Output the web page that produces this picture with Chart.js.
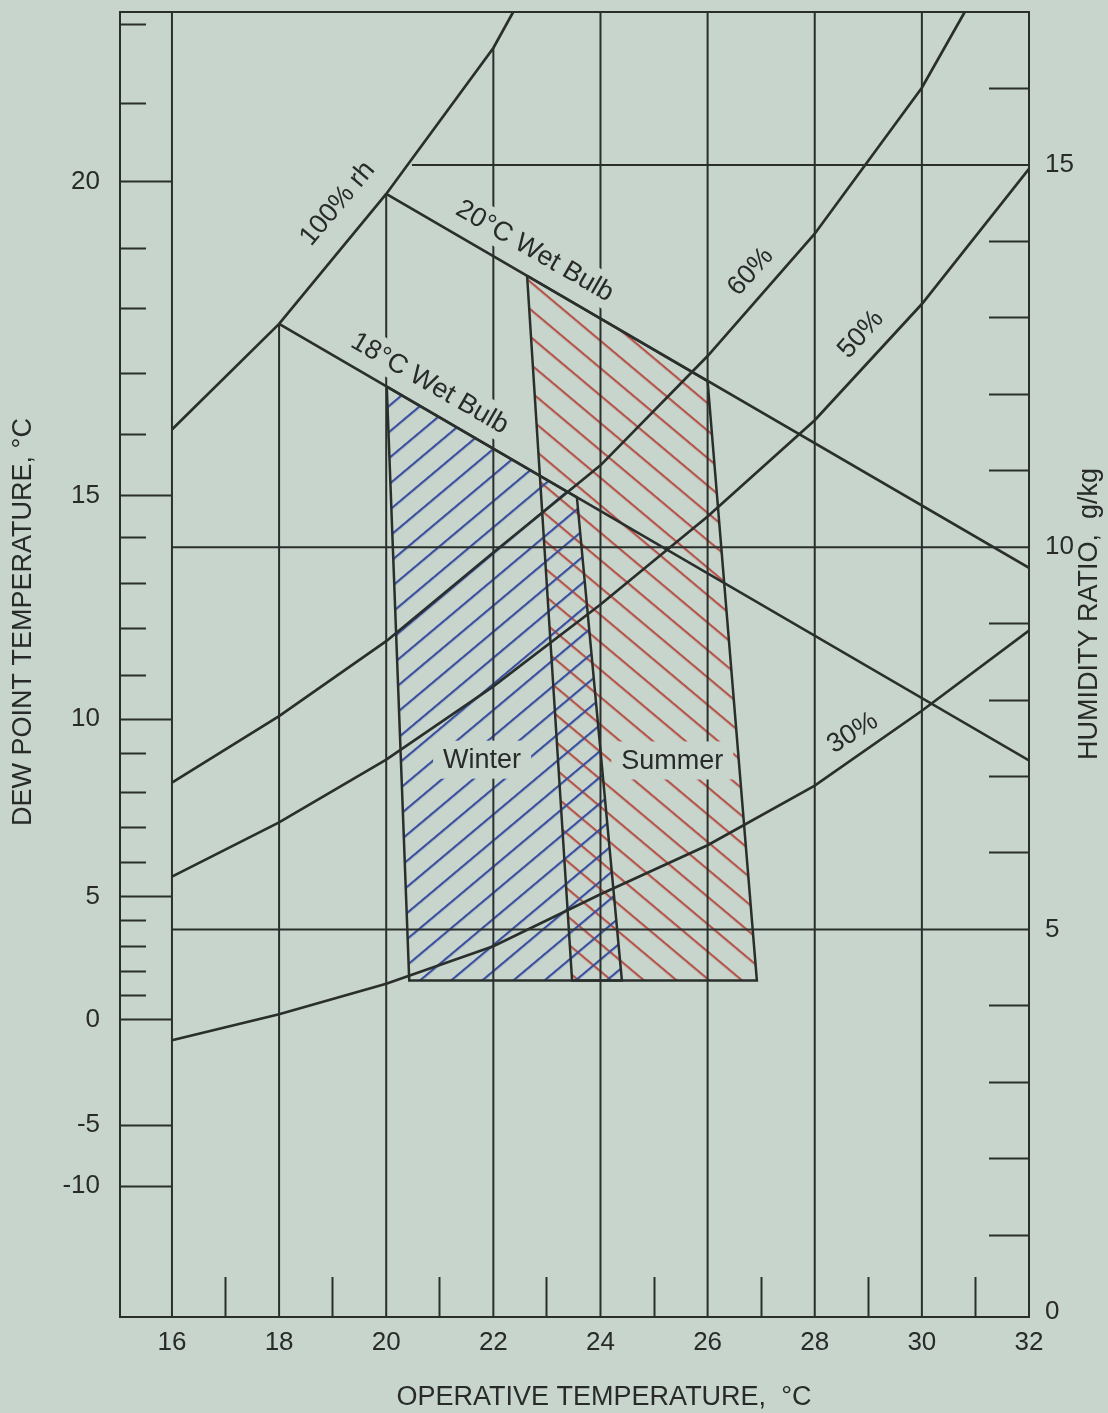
<!DOCTYPE html>
<html><head><meta charset="utf-8">
<script src="https://cdn.jsdelivr.net/npm/chart.js@4.4.1/dist/chart.umd.min.js"></script>
<style>html,body{margin:0;padding:0;background:#c7d5cd;}canvas{display:block;}</style>
</head><body>
<canvas id="c" width="1108" height="1413"></canvas>
<script>
// ---------- data ----------
const tempTicks = [16,17,18,19,20,21,22,23,24,25,26,27,28,29,30,31,32];
const dewPointLabels = ['20','15','10','5','0','-5','-10'];
const dewPointLabelW = [14.78,10.67,7.75,5.43,3.82,2.44,1.64];
const dewPointMinorW = [16.83,15.80,13.91,13.12,12.27,11.47,10.12,9.52,8.94,8.32,7.30,6.79,6.33,5.88,5.11,4.78,4.45,4.14];
const humidityTicks = [0,1,2,3,4,5,6,7,8,9,10,11,12,13,14,15,16];

const gridTemps = [16,18,20,22,24,26,28,30];
const gridTempTopW = [17,12.92,14.62,16.53,17,17,17,17];
const gridW = [5,10,15];
const gridWStartT = [16,16,20.48];

const rh100 = [[16,11.54],[18,12.92],[20,14.62],[22,16.53],[22.37,17.0]];
const rh60 = [[16,6.92],[18,7.79],[20,8.77],[22,9.93],[24,11.07],[26,12.5],[28,14.10],[30,16.01],[30.8,17.0]];
const rh50 = [[16,5.69],[18,6.40],[20,7.22],[22,8.18],[24,9.25],[26,10.4],[28,11.66],[30,13.18],[32,14.95]];
const rh30 = [[16,3.55],[18,3.89],[20,4.29],[22,4.78],[24,5.46],[26,6.1],[28,6.88],[30,7.86],[32,8.91]];
const wetBulb18 = [[18,12.92],[32,7.21]];
const wetBulb20 = [[20,14.62],[32,9.73]];
const winterZone = [[20.01,12.10],[20.43,4.33],[24.40,4.33],[23.56,10.65]];
const summerZone = [[22.63,13.55],[23.47,4.33],[26.92,4.33],[26.0,12.17]];

// ---------- styling / layout ----------
const BG = '#c7d5cd', INK = '#2a2f2c', TXT = '#282b29';
const FONT = '"Liberation Sans", Arial, Helvetica, sans-serif';
const W_MIN = -0.07, W_MAX = 17.0, T_MIN = 15.03, T_MAX = 32;

const annotations = [
  {text:'100% rh', t:19.08, w:14.50, angle:-50, h:30, pad:6},
  {text:'20°C Wet Bulb', t:22.78, w:13.88, angle:30, h:34, pad:8},
  {text:'18°C Wet Bulb', t:20.82, w:12.15, angle:30, h:34, pad:8},
  {text:'60%', t:26.79, w:13.61, angle:-48, h:30, pad:6},
  {text:'50%', t:28.85, w:12.79, angle:-48, h:30, pad:6},
  {text:'30%', t:28.70, w:7.58, angle:-32, h:30, pad:6},
  {text:'Winter', t:21.79, w:7.22, angle:0, h:38, pad:20},
  {text:'Summer', t:25.34, w:7.21, angle:0, h:38, pad:20}
];

function hatch(color, angle, spacing, width) {
  const c = document.createElement('canvas');
  c.width = 4; c.height = spacing;
  const g = c.getContext('2d');
  g.fillStyle = color;
  g.fillRect(0, 0, 4, width);
  const p = g.createPattern(c, 'repeat');
  p.setTransform(new DOMMatrix().rotateSelf(angle));
  return p;
}

const pts = a => a.map(([x, y]) => ({x, y}));
const lineDs = (data, width) => ({data: pts(data), borderColor: INK, borderWidth: width,
  pointRadius: 0, pointHoverRadius: 0, fill: false, tension: 0});

const datasets = [];
gridTemps.forEach((t, i) => datasets.push(lineDs([[t, W_MIN], [t, gridTempTopW[i]]], 2)));
gridW.forEach((w, i) => datasets.push(lineDs([[gridWStartT[i], w], [T_MAX, w]], 2)));
[rh100, rh60, rh50, rh30, wetBulb18, wetBulb20].forEach(c => datasets.push(lineDs(c, 2.7)));
datasets.push(Object.assign(lineDs([...winterZone, winterZone[0]], 2.5),
  {fill: 'shape', backgroundColor: hatch('#3a4e9e', -40, 20, 2.2)}));
datasets.push(Object.assign(lineDs([...summerZone, summerZone[0]], 2.5),
  {fill: 'shape', backgroundColor: hatch('#b4544a', 40, 21, 2.2)}));

const isMajorDew = v => dewPointLabelW.indexOf(v) >= 0;
const noPad = s => { s.paddingTop = 0; s.paddingBottom = 0; s.paddingLeft = 0; s.paddingRight = 0; };

const textPlugin = {
  id: 'texts',
  afterDatasetsDraw(chart) {
    const {ctx, scales: {x, y}} = chart;
    ctx.save();
    ctx.font = '27px ' + FONT;
    ctx.textAlign = 'center';
    ctx.textBaseline = 'middle';
    for (const a of annotations) {
      const px = x.getPixelForValue(a.t), py = y.getPixelForValue(a.w);
      const tw = ctx.measureText(a.text).width;
      ctx.save();
      ctx.translate(px, py);
      ctx.rotate(a.angle * Math.PI / 180);
      ctx.fillStyle = BG;
      ctx.fillRect(-tw / 2 - a.pad / 2, -a.h / 2, tw + a.pad, a.h);
      ctx.fillStyle = TXT;
      ctx.fillText(a.text, 0, 1);
      ctx.restore();
    }
    ctx.restore();
  },
  afterDraw(chart) {
    const {ctx} = chart;
    ctx.save();
    ctx.font = '27px ' + FONT;
    ctx.fillStyle = TXT;
    ctx.textAlign = 'center';
    ctx.textBaseline = 'middle';
    ctx.fillText('OPERATIVE TEMPERATURE,  °C', 604, 1398);
    ctx.save(); ctx.translate(24, 622); ctx.rotate(-Math.PI / 2);
    ctx.fillText('DEW POINT TEMPERATURE, °C', 0, 0); ctx.restore();
    ctx.save(); ctx.translate(1090, 614); ctx.rotate(-Math.PI / 2);
    ctx.fillText('HUMIDITY RATIO,  g/kg', 0, 0); ctx.restore();
    ctx.restore();
  }
};

const tickFont = {family: FONT, size: 26};
new Chart(document.getElementById('c'), {
  type: 'line',
  data: {datasets},
  plugins: [textPlugin],
  options: {
    responsive: false, animation: false, devicePixelRatio: 1,
    layout: {padding: 0},
    events: [],
    plugins: {legend: {display: false}, tooltip: {enabled: false}, filler: {drawTime: 'beforeDatasetsDraw'}},
    scales: {
      x: {
        type: 'linear', position: 'bottom', min: T_MIN, max: T_MAX,
        afterBuildTicks: s => { s.ticks = tempTicks.map(v => ({value: v})); },
        afterFit: s => { s.height = 96; noPad(s); },
        ticks: {autoSkip: false, maxRotation: 0, padding: 50, color: TXT, font: tickFont,
          callback: v => (v % 2 === 0 ? String(v) : '')},
        grid: {drawOnChartArea: false, drawTicks: true, tickLength: -40, tickWidth: 2,
          tickColor: c => (c.tick && c.tick.value % 2 === 0 ? 'rgba(0,0,0,0)' : INK)},
        border: {display: true, color: INK, width: 2}
      },
      xTop: {
        type: 'linear', position: 'top', min: T_MIN, max: T_MAX,
        afterFit: s => { s.height = 12; noPad(s); },
        ticks: {display: false},
        grid: {drawOnChartArea: false, drawTicks: false},
        border: {display: true, color: INK, width: 2}
      },
      y: {
        type: 'linear', position: 'right', min: W_MIN, max: W_MAX,
        afterBuildTicks: s => { s.ticks = humidityTicks.map(v => ({value: v})); },
        afterFit: s => { s.width = 79; noPad(s); },
        ticks: {autoSkip: false, padding: 56, color: TXT, font: tickFont,
          callback: v => (v % 5 === 0 ? String(v) : '')},
        grid: {drawOnChartArea: false, drawTicks: true, tickLength: -40, tickWidth: 2,
          tickColor: c => (c.tick && c.tick.value % 5 === 0 ? 'rgba(0,0,0,0)' : INK)},
        border: {display: true, color: INK, width: 2}
      },
      yDew: {
        type: 'linear', position: 'left', min: W_MIN, max: W_MAX,
        afterBuildTicks: s => {
          s.ticks = [...dewPointLabelW, ...dewPointMinorW].sort((a, b) => a - b).map(v => ({value: v}));
        },
        afterFit: s => { s.width = 120; noPad(s); },
        ticks: {autoSkip: false, padding: 72, color: TXT, font: tickFont,
          callback: v => { const i = dewPointLabelW.indexOf(v); return i >= 0 ? dewPointLabels[i] : ''; }},
        grid: {drawOnChartArea: false, drawTicks: true, tickLength: -52, tickWidth: 2, tickColor: INK,
          tickBorderDash: c => (c.tick && isMajorDew(c.tick.value) ? [] : [0, 26, 26, 100])},
        border: {display: true, color: INK, width: 2}
      }
    }
  }
});
</script>
</body></html>
